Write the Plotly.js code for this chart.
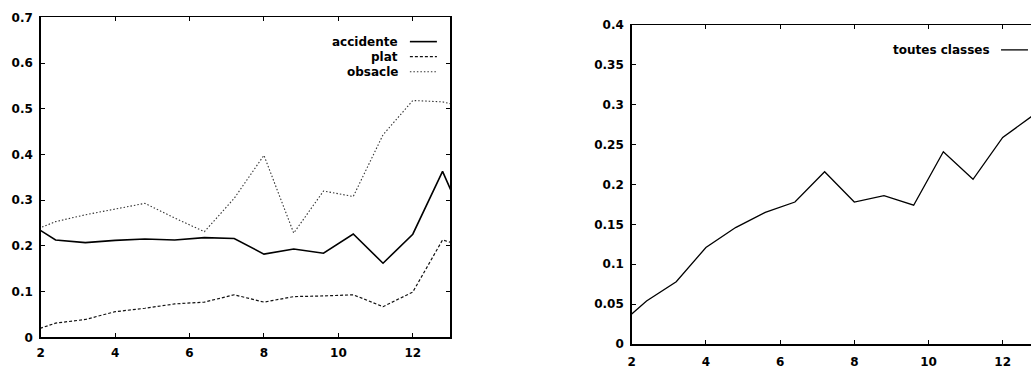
<!DOCTYPE html>
<html>
<head>
<meta charset="utf-8">
<script src="https://cdn.plot.ly/plotly-3.0.1.min.js"></script>
<style>
html, body { margin: 0; padding: 0; background: #fff; overflow: hidden; width: 1031px; height: 371px; }
#chart { width: 1045px; height: 371px; }
</style>
</head>
<body>
<div id="chart"></div>
<script>
// x positions of the samples (first and last lie just outside the visible x range)
const xs = [1.6, 2.4, 3.2, 4.0, 4.8, 5.6, 6.4, 7.2, 8.0, 8.8, 9.6, 10.4, 11.2, 12.0, 12.8, 13.6];

// left chart series
const accidente = [0.254, 0.213, 0.207, 0.212, 0.215, 0.213, 0.218, 0.216, 0.182, 0.193, 0.184, 0.226, 0.162, 0.2255, 0.363, 0.215];
const plat      = [0.009, 0.031, 0.039, 0.056, 0.0635, 0.073, 0.077, 0.093, 0.077, 0.089, 0.0905, 0.093, 0.067, 0.099, 0.213, 0.193];
const obsacle   = [0.227, 0.253, 0.268, 0.280, 0.293, 0.261, 0.231, 0.304, 0.398, 0.228, 0.320, 0.308, 0.443, 0.518, 0.515, 0.500];

// right chart series
const toutesClasses = [0.021, 0.054, 0.078, 0.121, 0.146, 0.165, 0.178, 0.216, 0.178, 0.186, 0.174, 0.241, 0.2065, 0.259, 0.286, 0.300];

// tick labels
const xTickVals = [2, 4, 6, 8, 10, 12];
const xTickText = ["2", "4", "6", "8", "10", "12"];
const yLeftVals = [0, 0.1, 0.2, 0.3, 0.4, 0.5, 0.6, 0.7];
const yLeftText = ["0", "0.1", "0.2", "0.3", "0.4", "0.5", "0.6", "0.7"];
const yRightVals = [0, 0.05, 0.1, 0.15, 0.2, 0.25, 0.3, 0.35, 0.4];
const yRightText = ["0", "0.05", "0.1", "0.15", "0.2", "0.25", "0.3", "0.35", "0.4"];

// legend labels
const leftNames = ["accidente", "plat", "obsacle"];
const rightNames = ["toutes classes"];

const tickFont = { family: "DejaVu Sans", size: 12, color: "#000", weight: "bold" };

const traces = [
  { x: xs, y: accidente, xaxis: "x", yaxis: "y", mode: "lines", name: leftNames[0],
    line: { color: "#000", width: 1.6 } },
  { x: xs, y: plat, xaxis: "x", yaxis: "y", mode: "lines", name: leftNames[1],
    line: { color: "#111", width: 1.2, dash: "3px,2px" } },
  { x: xs, y: obsacle, xaxis: "x", yaxis: "y", mode: "lines", name: leftNames[2],
    line: { color: "#333", width: 1.1, dash: "1.5px,2px" } },
  { x: xs, y: toutesClasses, xaxis: "x2", yaxis: "y2", mode: "lines", name: rightNames[0],
    line: { color: "#000", width: 1.3 } }
];

function xAxis(domain, anchor, standoff) {
  return {
    domain: domain, anchor: anchor, range: [2, 13],
    tickmode: "array", tickvals: xTickVals, ticktext: xTickText,
    ticks: "inside", ticklen: 4, tickwidth: 1, tickcolor: "#000",
    showline: true, linecolor: "#000", linewidth: 1.5, mirror: "allticks",
    showgrid: false, zeroline: false, tickfont: tickFont, ticklabelstandoff: standoff
  };
}
function yAxis(domain, anchor, range, vals, text) {
  return {
    domain: domain, anchor: anchor, range: range,
    tickmode: "array", tickvals: vals, ticktext: text,
    ticks: "inside", ticklen: 4, tickwidth: 1, tickcolor: "#000",
    showline: true, linecolor: "#000", linewidth: 1.5, mirror: "allticks",
    showgrid: false, zeroline: false, tickfont: tickFont, ticklabelstandoff: 4
  };
}

const W = 1045, H = 371;
const annFont = { family: "DejaVu Sans", size: 12, color: "#000", weight: "bold" };

const leftLegY = [0.924, 0.877, 0.830];
const leftDash = ["solid", "3px,2px", "1.5px,2px"];
const annotations = [];
const shapes = [];
leftNames.forEach((n, i) => {
  annotations.push({ xref: "x domain", yref: "y domain", x: 0.878, y: leftLegY[i],
    xanchor: "right", yanchor: "middle", text: n, showarrow: false, font: annFont });
  shapes.push({ type: "line", xref: "x domain", yref: "y domain",
    x0: 0.902, x1: 0.968, y0: leftLegY[i], y1: leftLegY[i],
    line: { color: traces[i].line.color, width: traces[i].line.width, dash: leftDash[i] } });
});
annotations.push({ xref: "x2 domain", yref: "y2 domain", x: 0.882, y: 0.922,
  xanchor: "right", yanchor: "middle", text: rightNames[0], showarrow: false, font: annFont });
shapes.push({ type: "line", xref: "x2 domain", yref: "y2 domain",
  x0: 0.905, x1: 0.971, y0: 0.922, y1: 0.922, line: { color: "#000", width: 1.3 } });

const layout = {
  width: W, height: H,
  margin: { l: 0, r: 0, t: 0, b: 0 },
  paper_bgcolor: "#fff", plot_bgcolor: "#fff",
  showlegend: false,
  font: { family: "DejaVu Sans", size: 12, color: "#000" },
  xaxis: xAxis([40.7 / W, 450 / W], "y", 4),
  yaxis: yAxis([(H - 337.3) / H, (H - 17.3) / H], "x", [0, 0.7], yLeftVals, yLeftText),
  xaxis2: xAxis([631.7 / W, 1039.8 / W], "y2", 6),
  yaxis2: yAxis([(H - 344) / H, (H - 25) / H], "x2", [0, 0.4], yRightVals, yRightText),
  annotations: annotations,
  shapes: shapes
};

Plotly.newPlot("chart", traces, layout, { displayModeBar: false, staticPlot: true });
</script>
</body>
</html>
